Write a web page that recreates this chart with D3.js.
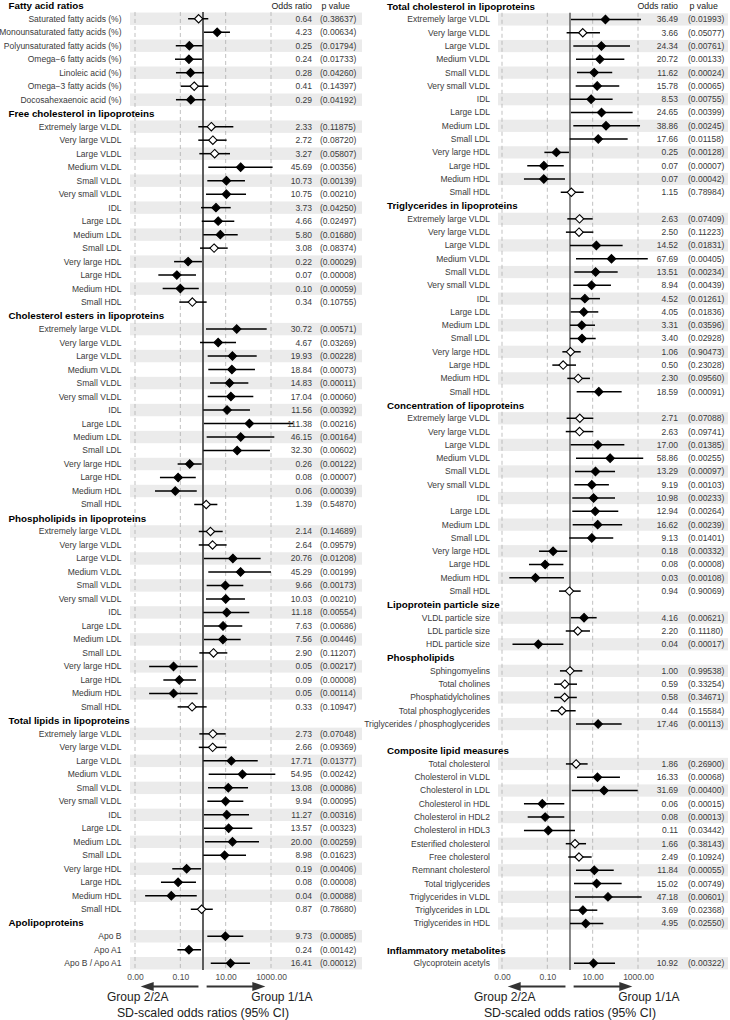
<!DOCTYPE html>
<html>
<head>
<meta charset="utf-8">
<script src="https://cdn.jsdelivr.net/npm/d3@7"></script>
<style>
  body { margin: 0; background: #fff; }
  svg { display: block; font-family: "Liberation Sans", Arial, sans-serif; }
</style>
</head>
<body>
<svg id="chart" width="730" height="1020"></svg>
<script>
// ---- data ----
const lipoLabels = ["Extremely large VLDL", "Very large VLDL", "Large VLDL", "Medium VLDL", "Small VLDL",
  "Very small VLDL", "IDL", "Large LDL", "Medium LDL", "Small LDL", "Very large HDL", "Large HDL",
  "Medium HDL", "Small HDL"];

const fattyLabels = ["Saturated fatty acids (%)", "Monounsaturated fatty acids (%)", "Polyunsaturated fatty acids (%)",
  "Omega\u22126 fatty acids (%)", "Linoleic acid (%)", "Omega\u22123 fatty acids (%)", "Docosahexaenoic acid (%)"];
const fattyOR = [0.64, 4.23, 0.25, 0.24, 0.28, 0.41, 0.29];
const fattyP = [0.38637, 0.00634, 0.01794, 0.01733, 0.04260, 0.14397, 0.04192];
const fattyLo = [0.22, 1.1, 0.063, 0.058, 0.064, 0.104, 0.064];
const fattyHi = [1.71, 15.5, 0.97, 0.9, 1.1, 1.71, 1.3];

const freeCholOR = [2.33, 2.72, 3.27, 45.69, 10.73, 10.75, 3.73, 4.66, 5.80, 3.08, 0.22, 0.07, 0.10, 0.34];
const freeCholP = [0.11875, 0.08720, 0.05807, 0.00356, 0.00139, 0.00210, 0.04250, 0.02497, 0.01680, 0.08374, 0.00029, 0.00008, 0.00059, 0.10755];
const freeCholLo = [0.62, 0.62, 0.69, 1.71, 1.55, 1.36, 0.82, 0.88, 1.03, 0.74, 0.053, 0.0107, 0.0166, 0.09];
const freeCholHi = [21.8, 11, 15.5, 1180, 71, 79, 16.7, 24, 34, 12.3, 0.9, 0.49, 0.65, 1.45];

const estersOR = [30.72, 4.67, 19.93, 18.84, 14.83, 17.04, 11.56, 111.38, 46.15, 32.30, 0.26, 0.08, 0.06, 1.39];
const estersP = [0.00571, 0.03269, 0.00228, 0.00073, 0.00011, 0.00060, 0.00392, 0.00216, 0.00164, 0.00602, 0.00122, 0.00007, 0.00039, 0.54870];
const estersLo = [1.36, 0.74, 1.61, 1.71, 2.04, 1.61, 1.03, 1.1, 1.45, 1.03, 0.076, 0.0126, 0.0076, 0.41];
const estersHi = [646, 28.6, 234, 196, 100, 166, 118, 9600, 1400, 900, 0.88, 0.48, 0.53, 4.3];

const phosLipoOR = [2.14, 2.64, 20.76, 45.29, 9.66, 10.03, 11.18, 7.63, 7.56, 2.90, 0.05, 0.09, 0.05, 0.33];
const phosLipoP = [0.14689, 0.09579, 0.01208, 0.00199, 0.00173, 0.00210, 0.00554, 0.00686, 0.00446, 0.11207, 0.00217, 0.00008, 0.00114, 0.10947];
const phosLipoLo = [0.65, 0.65, 1.1, 1.71, 1.45, 1.36, 1.03, 1.1, 1.1, 0.69, 0.0042, 0.0178, 0.0042, 0.076];
const phosLipoHi = [7.4, 11, 350, 1000, 60, 71, 110, 54, 46, 11.8, 0.58, 0.49, 0.58, 1.45];

const totLipOR = [2.73, 2.66, 17.71, 54.95, 13.08, 9.94, 11.27, 13.57, 20.00, 8.98, 0.19, 0.08, 0.04, 0.87];
const totLipP = [0.07048, 0.09369, 0.01377, 0.00242, 0.00086, 0.00095, 0.00316, 0.00323, 0.00259, 0.01623, 0.00406, 0.00008, 0.00088, 0.78680];
const totLipLo = [0.69, 0.65, 1.03, 1.78, 1.66, 1.55, 1.1, 1.1, 1.22, 1.03, 0.044, 0.014, 0.0028, 0.29];
const totLipHi = [10, 11, 260, 1550, 97, 60, 107, 150, 295, 79, 0.82, 0.49, 0.53, 2.7];

const apoLabels = ["Apo B", "Apo A1", "Apo B / Apo A1"];
const apoOR = [9.73, 0.24, 16.41];
const apoP = [0.00085, 0.00142, 0.00012];
const apoLo = [1.55, 0.074, 2.2];
const apoHi = [60, 0.82, 118];

const totCholOR = [36.49, 3.66, 24.34, 20.72, 11.62, 15.78, 8.53, 24.65, 38.86, 17.66, 0.25, 0.07, 0.07, 1.15];
const totCholP = [0.01993, 0.05077, 0.00761, 0.00133, 0.00024, 0.00065, 0.00755, 0.00399, 0.00245, 0.01158, 0.00128, 0.00007, 0.00042, 0.78984];
const totCholLo = [1.1, 0.71, 1.4, 1.84, 2.04, 1.78, 1.0, 1.1, 1.4, 0.97, 0.074, 0.013, 0.0093, 0.39];
const totCholHi = [1350, 21, 445, 250, 73, 149, 76, 580, 1230, 350, 0.9, 0.53, 0.6, 4.0];

const trigOR = [2.63, 2.50, 14.52, 67.69, 13.51, 8.94, 4.52, 4.05, 3.31, 3.40, 1.06, 0.50, 2.30, 18.59];
const trigP = [0.07409, 0.11223, 0.01831, 0.00405, 0.00234, 0.00439, 0.01261, 0.01836, 0.03596, 0.02928, 0.90473, 0.23028, 0.09560, 0.00091];
const trigLo = [0.76, 0.66, 1.0, 1.84, 1.55, 1.4, 1.07, 1.07, 1.0, 1.0, 0.46, 0.166, 0.76, 1.97];
const trigHi = [10, 10.7, 210, 2700, 127, 64, 21, 17.7, 12.7, 13.6, 2.96, 1.84, 7.6, 190];

const concOR = [2.71, 2.63, 17.00, 58.86, 13.29, 9.19, 10.98, 12.94, 16.62, 9.13, 0.18, 0.08, 0.03, 0.94];
const concP = [0.07088, 0.09741, 0.01385, 0.00255, 0.00097, 0.00103, 0.00233, 0.00264, 0.00239, 0.01401, 0.00332, 0.00008, 0.00108, 0.90069];
const concLo = [0.71, 0.65, 1.07, 1.84, 1.66, 1.55, 1.26, 1.26, 1.31, 0.93, 0.043, 0.0155, 0.0021, 0.33];
const concHi = [10.7, 10.7, 250, 1700, 97, 52, 97, 135, 200, 81, 0.76, 0.51, 0.54, 2.96];

const sizeLabels = ["VLDL particle size", "LDL particle size", "HDL particle size"];
const sizeOR = [4.16, 2.20, 0.04];
const sizeP = [0.00621, 0.11180, 0.00017];
const sizeLo = [1.1, 0.65, 0.0029];
const sizeHi = [15, 7.6, 0.51];

const phosLabels = ["Sphingomyelins", "Total cholines", "Phosphatidylcholines", "Total phosphoglycerides",
  "Triglycerides / phosphoglycerides"];
const phosOR = [1.00, 0.59, 0.58, 0.44, 17.46];
const phosP = [0.99538, 0.33254, 0.34671, 0.15584, 0.00113];
const phosLo = [0.36, 0.2, 0.2, 0.14, 1.84];
const phosHi = [3.5, 2.04, 2.0, 1.78, 190];

const compLabels = ["Total cholesterol", "Cholesterol in VLDL", "Cholesterol in LDL", "Cholesterol in HDL",
  "Cholesterol in HDL2", "Cholesterol in HDL3", "Esterified cholesterol", "Free cholesterol",
  "Remnant cholesterol", "Total triglycerides", "Triglycerides in VLDL", "Triglycerides in LDL",
  "Triglycerides in HDL"];
const compOR = [1.86, 16.33, 31.69, 0.06, 0.08, 0.11, 1.66, 2.49, 11.84, 15.02, 47.18, 3.69, 4.95];
const compP = [0.26900, 0.00068, 0.00400, 0.00015, 0.00013, 0.03442, 0.38143, 0.10924, 0.00055, 0.00749, 0.00601, 0.02368, 0.02550];
const compLo = [0.66, 2.04, 1.19, 0.0093, 0.0136, 0.0093, 0.65, 0.84, 1.84, 1.5, 1.66, 1.0, 1.0];
const compHi = [6.0, 160, 970, 0.56, 0.56, 1.66, 5.1, 9.0, 85, 190, 1450, 16, 29.5];

const inflamLabels = ["Glycoprotein acetyls"];
const inflamOR = [10.92];
const inflamP = [0.00322];
const inflamLo = [1.5];
const inflamHi = [97];

const xTicks = [0.001, 0.1, 10, 1000];

const leftGroups = [
  { title: "Fatty acid ratios", labels: fattyLabels, or: fattyOR, p: fattyP, lo: fattyLo, hi: fattyHi },
  { title: "Free cholesterol in lipoproteins", labels: lipoLabels, or: freeCholOR, p: freeCholP, lo: freeCholLo, hi: freeCholHi },
  { title: "Cholesterol esters in lipoproteins", labels: lipoLabels, or: estersOR, p: estersP, lo: estersLo, hi: estersHi },
  { title: "Phospholipids in lipoproteins", labels: lipoLabels, or: phosLipoOR, p: phosLipoP, lo: phosLipoLo, hi: phosLipoHi },
  { title: "Total lipids in lipoproteins", labels: lipoLabels, or: totLipOR, p: totLipP, lo: totLipLo, hi: totLipHi },
  { title: "Apolipoproteins", labels: apoLabels, or: apoOR, p: apoP, lo: apoLo, hi: apoHi }
];

const rightGroups = [
  { title: "Total cholesterol in lipoproteins", labels: lipoLabels, or: totCholOR, p: totCholP, lo: totCholLo, hi: totCholHi },
  { title: "Triglycerides in lipoproteins", labels: lipoLabels, or: trigOR, p: trigP, lo: trigLo, hi: trigHi },
  { title: "Concentration of lipoproteins", labels: lipoLabels, or: concOR, p: concP, lo: concLo, hi: concHi },
  { title: "Lipoprotein particle size", labels: sizeLabels, or: sizeOR, p: sizeP, lo: sizeLo, hi: sizeHi },
  { title: "Phospholipids", labels: phosLabels, or: phosOR, p: phosP, lo: phosLo, hi: phosHi },
  { title: "Composite lipid measures", labels: compLabels, or: compOR, p: compP, lo: compLo, hi: compHi, spacer: true },
  { title: "Inflammatory metabolites", labels: inflamLabels, or: inflamOR, p: inflamP, lo: inflamLo, hi: inflamHi, spacer: true }
];

// ---- drawing ----
const svg = d3.select("#chart");
const fmtOR = d3.format(".2f");
const fmtP = d => `(${d3.format(".5f")(d)})`;

const buildRows = groups => {
  const rows = [];
  groups.forEach((grp, gi) => {
    if (grp.spacer) rows.push({ type: "blank", key: `b${gi}` });
    rows.push({ type: "header", key: `h${gi}`, text: grp.title });
    grp.labels.forEach((label, i) => {
      rows.push({
        type: "item", key: `${gi}-${i}`, label,
        or: grp.or[i], p: grp.p[i], lo: grp.lo[i], hi: grp.hi[i], shade: i % 2 === 0
      });
    });
  });
  return rows;
};

const drawPanel = (groups, cfg) => {
  const rows = buildRows(groups);
  const items = rows.filter(r => r.type === "item");
  const g = svg.append("g");

  const x = d3.scaleLog().domain([0.001, 1000]).range(cfg.xRange);
  const y = d3.scaleBand().domain(rows.map(r => r.key)).range(cfg.yRange);
  const bw = y.bandwidth();
  const cy = key => y(key) + bw / 2;

  const top = y(items[0].key);
  const bottom = y(items[items.length - 1].key) + bw;

  // shaded rows
  g.append("g")
    .selectAll("rect")
    .data(items.filter(d => d.shade))
    .enter()
    .append("rect")
    .attr("x", cfg.bandX[0])
    .attr("width", cfg.bandX[1] - cfg.bandX[0])
    .attr("y", d => cy(d.key) - bw * 0.46)
    .attr("height", bw * 0.92)
    .attr("fill", "#ebebeb");

  // dashed grid
  g.append("g")
    .selectAll("line")
    .data(xTicks)
    .enter()
    .append("line")
    .attr("x1", d => x(d))
    .attr("x2", d => x(d))
    .attr("y1", top)
    .attr("y2", bottom)
    .attr("stroke", "#a6a6a6")
    .attr("stroke-width", 0.7)
    .attr("stroke-dasharray", "4,3");

  // reference line at OR = 1
  g.append("line")
    .attr("x1", x(1)).attr("x2", x(1))
    .attr("y1", top).attr("y2", bottom)
    .attr("stroke", "#555")
    .attr("stroke-width", cfg.refWidth);

  // confidence intervals
  g.append("g")
    .selectAll("line")
    .data(items)
    .enter()
    .append("line")
    .attr("x1", d => x(d.lo))
    .attr("x2", d => x(d.hi))
    .attr("y1", d => cy(d.key))
    .attr("y2", d => cy(d.key))
    .attr("stroke", "#000")
    .attr("stroke-width", 1.5);

  // diamonds
  const r = 4.2;
  g.append("g")
    .selectAll("path")
    .data(items)
    .enter()
    .append("path")
    .attr("d", d => {
      const px = x(d.or), py = cy(d.key);
      return `M${px},${py - r}L${px + r},${py}L${px},${py + r}L${px - r},${py}Z`;
    })
    .attr("fill", d => (d.p < 0.05 ? "#000" : "#fff"))
    .attr("stroke", "#000")
    .attr("stroke-width", 1.1);

  // row labels
  g.append("g")
    .selectAll("text")
    .data(items)
    .enter()
    .append("text")
    .attr("x", cfg.labelX)
    .attr("y", d => cy(d.key))
    .attr("dy", "0.35em")
    .attr("text-anchor", "end")
    .attr("font-size", "8.5px")
    .attr("fill", "#3a3a3a")
    .text(d => d.label);

  // group headers
  g.append("g")
    .selectAll("text")
    .data(rows.filter(d => d.type === "header"))
    .enter()
    .append("text")
    .attr("x", cfg.headerX)
    .attr("y", d => cy(d.key))
    .attr("dy", "0.38em")
    .attr("font-size", "9.8px")
    .attr("font-weight", "bold")
    .attr("fill", "#000")
    .text(d => d.text);

  // odds ratio / p value columns
  const firstHeader = rows[0].key;
  g.append("text")
    .attr("x", cfg.orX).attr("y", cy(firstHeader)).attr("dy", "0.38em")
    .attr("text-anchor", "end").attr("font-size", "8.8px").attr("fill", "#222")
    .text("Odds ratio");
  g.append("text")
    .attr("x", cfg.pX + 1.5).attr("y", cy(firstHeader)).attr("dy", "0.38em")
    .attr("font-size", "8.8px").attr("fill", "#222")
    .text("p value");

  g.append("g")
    .selectAll("text")
    .data(items)
    .enter()
    .append("text")
    .attr("x", cfg.orX)
    .attr("y", d => cy(d.key))
    .attr("dy", "0.35em")
    .attr("text-anchor", "end")
    .attr("font-size", "8.5px")
    .attr("fill", "#3a3a3a")
    .text(d => fmtOR(d.or));

  g.append("g")
    .selectAll("text")
    .data(items)
    .enter()
    .append("text")
    .attr("x", cfg.pX)
    .attr("y", d => cy(d.key))
    .attr("dy", "0.35em")
    .attr("font-size", "8.5px")
    .attr("fill", "#3a3a3a")
    .text(d => fmtP(d.p));

  // x axis
  const axis = g.append("g")
    .attr("transform", `translate(0,${bottom})`)
    .call(d3.axisBottom(x).tickValues(xTicks).tickFormat(d3.format(".2f")).tickSize(0).tickPadding(3.5));
  axis.select(".domain").remove();
  axis.selectAll("text")
    .attr("font-size", "8.5px")
    .attr("font-family", '"Liberation Sans", Arial, sans-serif')
    .attr("fill", "#4d4d4d");

  // direction arrows
  const arrowY = bottom + 16.5;
  const arrows = [
    { from: x(10 ** -0.2), to: x(10 ** -2.75) },
    { from: x(10 ** 0.16), to: x(10 ** 2.75) }
  ];
  arrows.forEach(a => {
    const dir = Math.sign(a.to - a.from);
    const headLen = 13, headHalf = 4.6;
    g.append("line")
      .attr("x1", a.from).attr("x2", a.to - dir * headLen * 0.6)
      .attr("y1", arrowY).attr("y2", arrowY)
      .attr("stroke", "#333").attr("stroke-width", 2);
    g.append("path")
      .attr("d", `M${a.to},${arrowY}L${a.to - dir * headLen},${arrowY - headHalf}L${a.to - dir * headLen},${arrowY + headHalf}Z`)
      .attr("fill", "#333");
  });

  g.append("text")
    .attr("x", x(10 ** -2.88)).attr("y", bottom + 27).attr("dy", "0.35em")
    .attr("text-anchor", "middle").attr("font-size", "12px").attr("fill", "#222")
    .text("Group 2/2A");
  g.append("text")
    .attr("x", x(10 ** 3.48)).attr("y", bottom + 27).attr("dy", "0.35em")
    .attr("text-anchor", "middle").attr("font-size", "12px").attr("fill", "#222")
    .text("Group 1/1A");
  g.append("text")
    .attr("x", x(1)).attr("y", bottom + 42.5).attr("dy", "0.35em")
    .attr("text-anchor", "middle").attr("font-size", "12.3px").attr("fill", "#222")
    .text("SD-scaled odds ratios (95% CI)");
};

drawPanel(leftGroups, {
  xRange: [135, 271], yRange: [-1.5, 970], bandX: [130, 362],
  labelX: 121.5, headerX: 8.5, orX: 312, pX: 320, refWidth: 1.9
});

drawPanel(rightGroups, {
  xRange: [502, 638], yRange: [-0.5, 970], bandX: [498, 728],
  labelX: 490, headerX: 387, orX: 678, pX: 688, refWidth: 1.4
});
</script>
</body>
</html>
